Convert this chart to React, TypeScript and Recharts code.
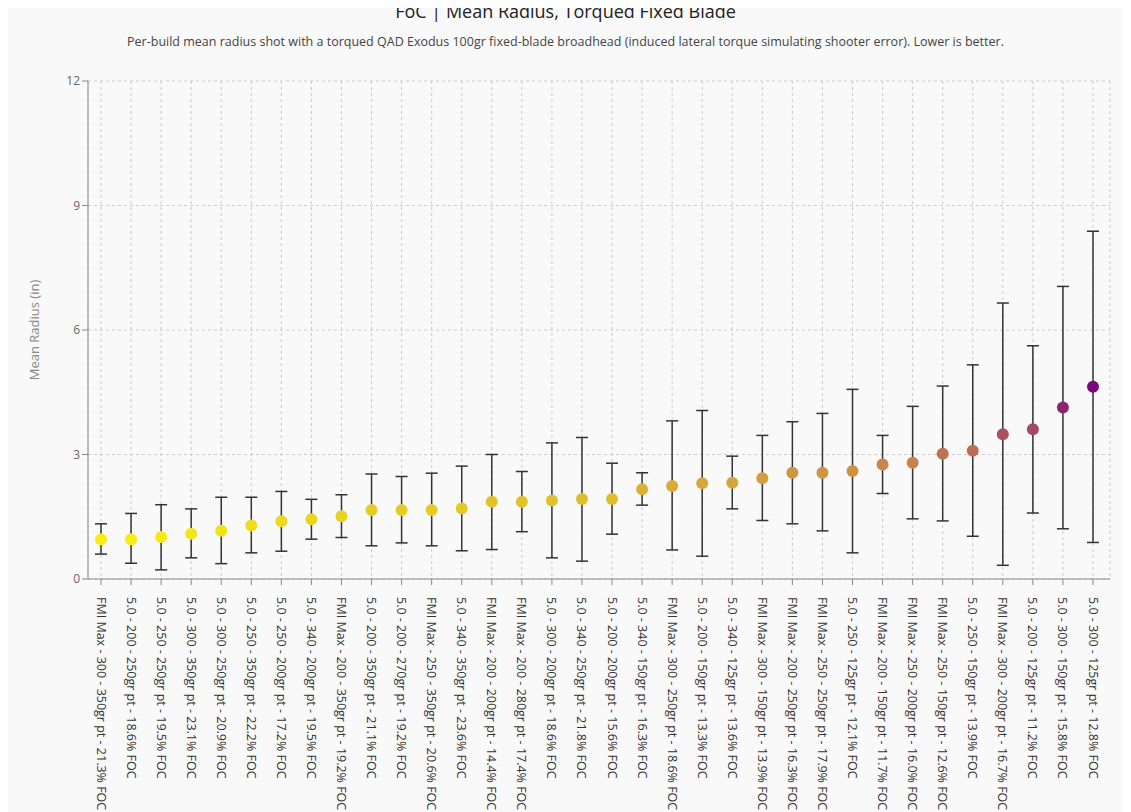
import React from "react";
import { ComposedChart, Scatter, XAxis, YAxis, CartesianGrid, ErrorBar } from "recharts";

const labels = [
  "FMI Max - 300 - 350gr pt - 21.3% FOC","5.0 - 200 - 250gr pt - 18.6% FOC","5.0 - 250 - 250gr pt - 19.5% FOC",
  "5.0 - 300 - 350gr pt - 23.1% FOC","5.0 - 300 - 250gr pt - 20.9% FOC","5.0 - 250 - 350gr pt - 22.2% FOC",
  "5.0 - 250 - 200gr pt - 17.2% FOC","5.0 - 340 - 200gr pt - 19.5% FOC","FMI Max - 200 - 350gr pt - 19.2% FOC",
  "5.0 - 200 - 350gr pt - 21.1% FOC","5.0 - 200 - 270gr pt - 19.2% FOC","FMI Max - 250 - 350gr pt - 20.6% FOC",
  "5.0 - 340 - 350gr pt - 23.6% FOC","FMI Max - 200 - 200gr pt - 14.4% FOC","FMI Max - 200 - 280gr pt - 17.4% FOC",
  "5.0 - 300 - 200gr pt - 18.6% FOC","5.0 - 340 - 250gr pt - 21.8% FOC","5.0 - 200 - 200gr pt - 15.6% FOC",
  "5.0 - 340 - 150gr pt - 16.3% FOC","FMI Max - 300 - 250gr pt - 18.6% FOC","5.0 - 200 - 150gr pt - 13.3% FOC",
  "5.0 - 340 - 125gr pt - 13.6% FOC","FMI Max - 300 - 150gr pt - 13.9% FOC","FMI Max - 200 - 250gr pt - 16.3% FOC",
  "FMI Max - 250 - 250gr pt - 17.9% FOC","5.0 - 250 - 125gr pt - 12.1% FOC","FMI Max - 200 - 150gr pt - 11.7% FOC",
  "FMI Max - 250 - 200gr pt - 16.0% FOC","FMI Max - 250 - 150gr pt - 12.6% FOC","5.0 - 250 - 150gr pt - 13.9% FOC",
  "FMI Max - 300 - 200gr pt - 16.7% FOC","5.0 - 200 - 125gr pt - 11.2% FOC","5.0 - 300 - 150gr pt - 15.8% FOC",
  "5.0 - 300 - 125gr pt - 12.8% FOC",
];
const means = [0.96,0.96,1.01,1.09,1.16,1.29,1.39,1.44,1.51,1.66,1.66,1.66,1.70,1.86,1.86,1.89,1.93,1.93,2.16,2.24,2.31,2.32,2.43,2.56,2.56,2.60,2.76,2.80,3.02,3.09,3.49,3.61,4.13,4.63];
const highs = [1.33,1.58,1.79,1.69,1.97,1.97,2.11,1.92,2.03,2.53,2.47,2.55,2.72,3.0,2.59,3.28,3.41,2.79,2.56,3.81,4.06,2.96,3.46,3.79,3.99,4.57,3.46,4.16,4.65,5.16,6.65,5.62,7.05,8.38];
const lows = [0.60,0.38,0.22,0.51,0.37,0.63,0.67,0.96,1.0,0.80,0.87,0.80,0.68,0.71,1.14,0.51,0.43,1.08,1.78,0.70,0.55,1.69,1.41,1.33,1.16,0.63,2.06,1.45,1.40,1.03,0.33,1.59,1.21,0.88];
const yTicks = [0, 3, 6, 9, 12];

const stops: [number, number[]][] = [
  [0.96, [247, 236, 19]], [1.9, [223, 193, 42]], [2.3, [214, 168, 58]], [2.8, [201, 130, 77]],
  [3.5, [169, 80, 94]], [4.13, [142, 36, 112]], [4.63, [122, 10, 122]],
];
function colorFor(v: number) {
  for (let i = 0; i < stops.length - 1; i++) {
    const [a, ca] = stops[i], [b, cb] = stops[i + 1];
    if (v <= b) {
      const t = Math.max(0, (v - a) / (b - a));
      const c = ca.map((x, k) => Math.round(x + (cb[k] - x) * t));
      return `rgb(${c.join(",")})`;
    }
  }
  return "rgb(122,10,122)";
}

const data = labels.map((name, i) => ({
  name, y: means[i], err: [means[i] - lows[i], highs[i] - means[i]],
}));

const Dot = (p: any) => <circle cx={p.cx} cy={p.cy} r={6} fill={colorFor(p.payload.y)} />;

const Tick = (p: any) => (
  <text x={p.x} y={p.y + 10} transform={`rotate(90 ${p.x} ${p.y + 10})`} textAnchor="start" dominantBaseline="central" fontSize={12.5} fill="#333" fontFamily="Open Sans">
    {p.payload.value}
  </text>
);

export default function App() {
  return (
    <div style={{ position: "relative", width: 1115, height: 804, background: "#f9f9f9", fontFamily: "Open Sans" }}>
      <div style={{ position: "absolute", top: -9, width: "100%", textAlign: "center", fontSize: 18, color: "#222" }}>FoC | Mean Radius, Torqued Fixed Blade</div>
      <div style={{ position: "absolute", top: 25, width: "100%", textAlign: "center", fontSize: 12.5, color: "#444" }}>Per-build mean radius shot with a torqued QAD Exodus 100gr fixed-blade broadhead (induced lateral torque simulating shooter error). Lower is better.</div>
      <ComposedChart width={1115} height={804} data={data} margin={{ top: 73, right: 13, bottom: 3, left: 40 }}>
        <CartesianGrid strokeDasharray="3 3" stroke="#ccc" />
        <XAxis dataKey="name" type="category" interval={0} height={230} tick={<Tick />} stroke="#888" padding={{ left: 13, right: 17 }} />
        <YAxis domain={[0, 12]} ticks={yTicks} width={40} stroke="#888" tick={{ fontSize: 12, fill: "#666" }}
          label={{ value: "Mean Radius (in)", angle: -90, position: "insideLeft", offset: -14, fill: "#888", fontSize: 13, style: { textAnchor: "middle" } }} />
        <Scatter dataKey="y" isAnimationActive={false} shape={<Dot />}>
          <ErrorBar dataKey="err" direction="y" width={6} stroke="#333" strokeWidth={1.5} />
        </Scatter>
      </ComposedChart>
    </div>
  );
}
